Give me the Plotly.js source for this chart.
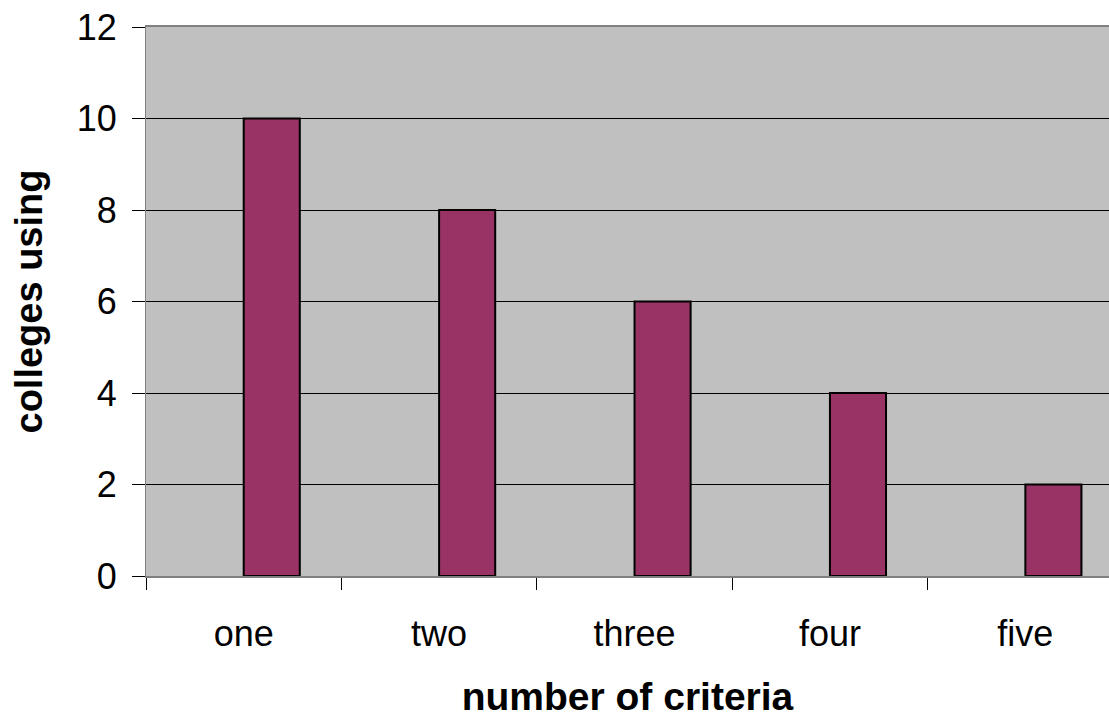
<!DOCTYPE html>
<html>
<head>
<meta charset="utf-8">
<script src="https://cdn.plot.ly/plotly-3.0.1.min.js"></script>
<style>html,body{margin:0;padding:0;background:#fff;overflow:hidden}#chart{width:1109px;height:718px}</style>
</head>
<body>
<div id="chart"></div>
<script>
const categories = ["one", "two", "three", "four", "five"];
const collegesUsing = [10, 8, 6, 4, 2];
const yTickVals = [0, 2, 4, 6, 8, 10, 12];

const trace = {
  type: "bar",
  x: categories,
  y: collegesUsing,
  offset: 0,
  width: 0.287,
  marker: {color: "#993366", line: {color: "#000000", width: 2}},
  hoverinfo: "x+y"
};

const layout = {
  width: 1109,
  height: 718,
  margin: {l: 146, r: 0, t: 27, b: 142, pad: 0},
  paper_bgcolor: "#ffffff",
  plot_bgcolor: "#C0C0C0",
  font: {family: "Liberation Sans, Arial, sans-serif", color: "#000000", size: 36},
  showlegend: false,
  bargap: 0,
  xaxis: {
    type: "category",
    range: [-0.5, 4.428],
    tickson: "boundaries",
    ticks: "outside",
    ticklen: 12,
    tickcolor: "#000000",
    tickwidth: 1,
    showgrid: false,
    showline: true,
    linecolor: "#808080",
    linewidth: 2,
    mirror: true,
    ticklabelstandoff: 25,
    tickfont: {size: 36},
    title: {text: "<b>number of criteria</b>", font: {size: 39}, standoff: 30}
  },
  yaxis: {
    range: [0, 12],
    tickvals: yTickVals,
    ticks: "outside",
    ticklen: 13,
    tickcolor: "#000000",
    tickwidth: 1,
    showgrid: true,
    gridcolor: "#000000",
    gridwidth: 1,
    zeroline: false,
    showline: true,
    linecolor: "#808080",
    linewidth: 1,
    ticklabelstandoff: 8,
    tickfont: {size: 36},
    title: {text: "<b>colleges using</b>", font: {size: 38}, standoff: 22}
  }
};

Plotly.newPlot("chart", [trace], layout, {displayModeBar: false, staticPlot: true});
</script>
</body>
</html>
